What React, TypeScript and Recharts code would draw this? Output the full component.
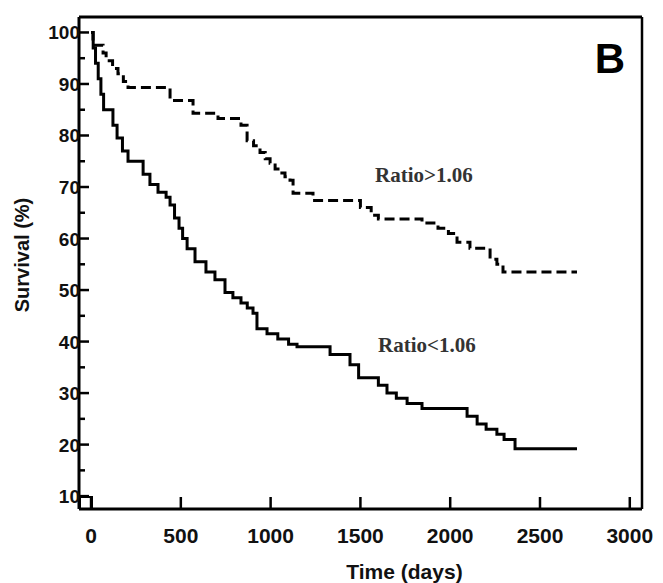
import React from 'react';
import { LineChart, Line, XAxis, YAxis, ReferenceLine } from 'recharts';

// Kaplan-Meier step points: time (days) and survival (%)
const lowTimes = [0, 12, 25, 40, 55, 70, 122, 145, 175, 206, 290, 328, 373, 418, 440, 465, 490, 510, 535, 579, 640, 690, 746, 790, 835, 870, 902, 924, 980, 1040, 1100, 1147, 1331, 1442, 1490, 1600, 1648, 1700, 1760, 1843, 2094, 2150, 2200, 2260, 2300, 2361, 2706];
const lowSurvival = [100, 97, 94, 91, 88, 85, 82, 79.5, 77, 75, 72.5, 70.5, 69, 68, 66.5, 64, 62, 60, 58, 55.5, 53.5, 52, 49.5, 48.5, 47.5, 46.5, 45.5, 42.5, 41.5, 40.5, 39.5, 39, 37.5, 35.5, 33, 31.5, 30, 29, 28, 27, 25.5, 24, 23, 22, 21, 19.2, 19.2];

const highTimes = [0, 11, 67, 84, 120, 150, 180, 206, 440, 568, 707, 835, 869, 905, 941, 970, 997, 1025, 1052, 1080, 1108, 1125, 1236, 1500, 1560, 1600, 1843, 1932, 1990, 2038, 2110, 2222, 2260, 2294, 2706];
const highSurvival = [100, 97.5, 96, 94.5, 93, 92, 90.5, 89.3, 86.8, 84.3, 83.3, 82, 79, 78, 76.7, 75.5, 74.6, 73.5, 72.7, 72, 71.3, 68.8, 67.4, 66, 64.5, 63.8, 63, 62, 61, 59.3, 58.1, 56, 55, 53.5, 53.5];

const xTicks = [0, 500, 1000, 1500, 2000, 2500, 3000];
const yTicks = [10, 15, 20, 25, 30, 35, 40, 45, 50, 55, 60, 65, 70, 75, 80, 85, 90, 95, 100];

const lowData = lowTimes.map((t, i) => ({ t, v: lowSurvival[i] }));
const highData = highTimes.map((t, i) => ({ t, v: highSurvival[i] }));

const FONT = '"Liberation Sans", Arial, sans-serif';
const SERIF = '"Liberation Serif", "Times New Roman", serif';

const YTick = (props: any) => {
  const { x, y, payload } = props;
  const major = payload.value % 10 === 0;
  return (
    <g>
      <line x1={x} x2={x + (major ? 10 : 6)} y1={y} y2={y} stroke="#000" strokeWidth={2.5} />
      {major && (
        <text x={x + 1} y={y + 7} textAnchor="end" fontFamily={FONT} fontWeight="bold" fontSize={19} fill="#111">
          {payload.value}
        </text>
      )}
    </g>
  );
};

const XTick = (props: any) => {
  const { x, y, payload } = props;
  return (
    <g>
      <line x1={x} x2={x} y1={y} y2={y - 12} stroke="#000" strokeWidth={2.5} />
      <text x={x} y={y + 34} textAnchor="middle" fontFamily={FONT} fontWeight="bold" fontSize={21} fill="#111">
        {payload.value}
      </text>
    </g>
  );
};

export default function App() {
  return (
    <div style={{ position: 'absolute', left: 0, top: 0, background: '#fff' }}>
      <LineChart width={663} height={583} margin={{ top: 17, right: 21, left: 0, bottom: 0 }}>
        <XAxis
          type="number"
          dataKey="t"
          domain={[-67, 3068]}
          ticks={xTicks}
          allowDataOverflow
          height={74}
          tickSize={0}
          tickMargin={0}
          tickLine={false}
          tick={<XTick />}
          axisLine={{ stroke: '#000', strokeWidth: 3 }}
          label={{ value: 'Time (days)', position: 'insideBottom', offset: 4, dx: 44, fontFamily: FONT, fontWeight: 'bold', fontSize: 21, fill: '#111' }}
        />
        <YAxis
          type="number"
          domain={[7.5, 103]}
          ticks={yTicks}
          allowDataOverflow
          width={79}
          tickSize={0}
          tickMargin={0}
          tickLine={false}
          tick={<YTick />}
          interval={0}
          axisLine={{ stroke: '#000', strokeWidth: 3 }}
          label={{ value: 'Survival (%)', angle: -90, position: 'insideLeft', offset: 22, dy: -8, fontFamily: FONT, fontWeight: 'bold', fontSize: 20, fill: '#111', style: { textAnchor: 'middle' } }}
        />
        <ReferenceLine y={103} stroke="#000" strokeWidth={3} />
        <ReferenceLine x={3068} stroke="#000" strokeWidth={2.5} />
        <Line
          data={highData}
          dataKey="v"
          type="stepAfter"
          stroke="#000"
          strokeWidth={3}
          strokeDasharray="10 5"
          dot={false}
          isAnimationActive={false}
        />
        <Line
          data={lowData}
          dataKey="v"
          type="stepAfter"
          stroke="#000"
          strokeWidth={3}
          dot={false}
          isAnimationActive={false}
        />
        <rect x={80} y={497} width={12} height={12} fill="none" stroke="#000" strokeWidth={2} />
        <text x={610} y={73} textAnchor="middle" fontFamily={FONT} fontWeight="bold" fontSize={42} fill="#000">
          B
        </text>
        <text x={375} y={182} fontFamily={SERIF} fontWeight="bold" fontSize={21} fill="#333">
          {'Ratio>1.06'}
        </text>
        <text x={378} y={352} fontFamily={SERIF} fontWeight="bold" fontSize={21} fill="#333">
          {'Ratio<1.06'}
        </text>
      </LineChart>
    </div>
  );
}
